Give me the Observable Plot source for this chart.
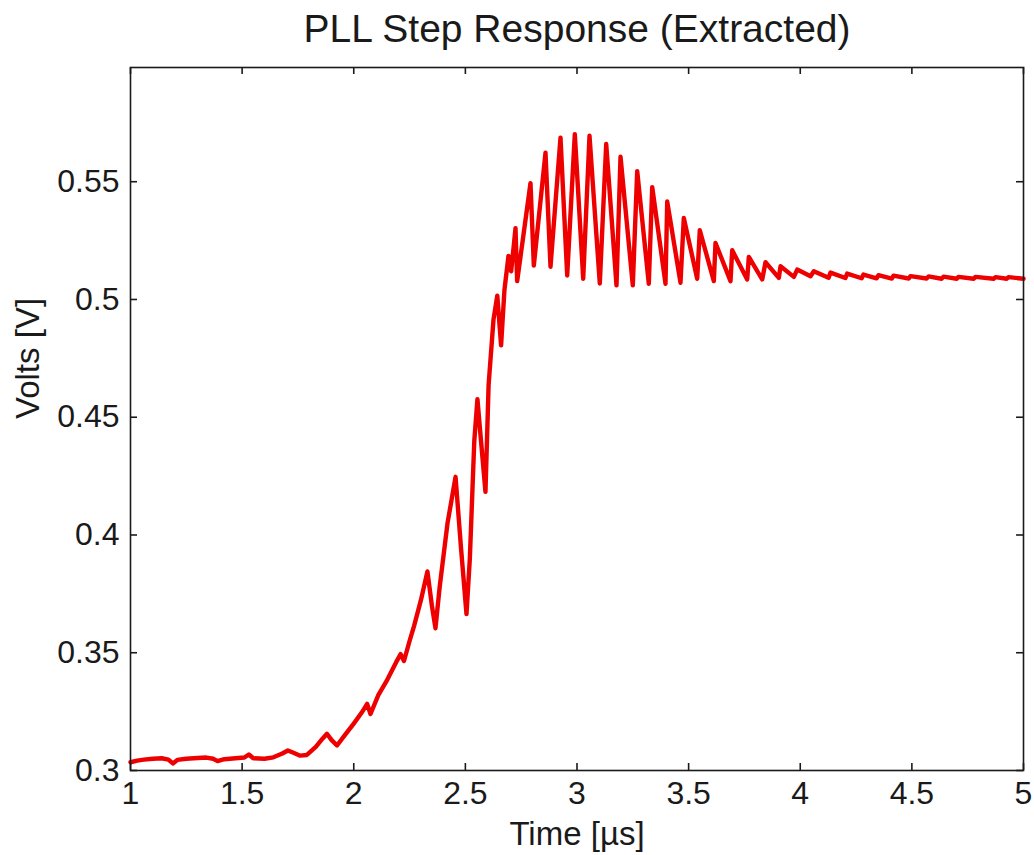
<!DOCTYPE html>
<html>
<head>
<meta charset="utf-8">
<script src="https://cdn.jsdelivr.net/npm/d3@7"></script>
<script src="https://cdn.jsdelivr.net/npm/@observablehq/plot@0.6"></script>
<style>
  html, body { margin: 0; padding: 0; background: #fff; }
  #chart svg { display: block; }
</style>
</head>
<body>
<div id="chart"></div>
<script>
// ---- Data ----
const titleText = "PLL Step Response (Extracted)";
const xLabel = "Time [µs]";
const yLabel = "Volts [V]";

const xTicks = [1, 1.5, 2, 2.5, 3, 3.5, 4, 4.5, 5];
const yTicks = [0.3, 0.35, 0.4, 0.45, 0.5, 0.55];

// time in microseconds
const time = [
  1.000, 1.030, 1.060, 1.100, 1.140, 1.170, 1.190, 1.210, 1.250, 1.300,
  1.340, 1.370, 1.390, 1.420, 1.470, 1.510, 1.530, 1.550, 1.600, 1.640,
  1.680, 1.705, 1.730, 1.760, 1.790, 1.830, 1.860, 1.880, 1.900, 1.925,
  1.960, 2.000, 2.035, 2.060, 2.075, 2.110, 2.150, 2.190, 2.210, 2.225,
  2.250, 2.270, 2.300, 2.330, 2.350, 2.366, 2.385, 2.420, 2.456, 2.480,
  2.505, 2.520, 2.540, 2.554, 2.570, 2.590, 2.604, 2.626, 2.643, 2.660,
  2.675, 2.693, 2.705, 2.718,
  2.7245, 2.7320, 2.7917, 2.8066, 2.8589, 2.8813, 2.9261, 2.9561, 2.9902, 3.0278,
  3.0560, 3.1021, 3.1308, 3.1769, 3.1949, 3.2499, 3.2697, 3.3216, 3.3369, 3.3964,
  3.4041, 3.4636, 3.4784, 3.5384, 3.5501, 3.6129, 3.6204, 3.6876, 3.6952, 3.7624,
  3.7696, 3.8296, 3.8444, 3.9040, 3.9116, 3.9713, 3.9864, 4.0460, 4.0607,
  4.1270, 4.1355, 4.2020, 4.2103, 4.2750, 4.2833, 4.3420, 4.3505, 4.4100, 4.4177,
  4.4860, 4.4939, 4.5660, 4.5745, 4.6330, 4.6417, 4.7010, 4.7089, 4.7770, 4.7850,
  4.8660, 4.8746, 4.9250, 4.9328, 5.000
];

// output voltage in volts
const volts = [
  0.3035, 0.3042, 0.3046, 0.3050, 0.3052, 0.3046, 0.3030, 0.3045, 0.3050, 0.3053,
  0.3055, 0.3050, 0.3040, 0.3048, 0.3052, 0.3055, 0.3068, 0.3052, 0.3050, 0.3056,
  0.3072, 0.3085, 0.3075, 0.3063, 0.3066, 0.3100, 0.3135, 0.3156, 0.3130, 0.3106,
  0.3150, 0.3199, 0.3245, 0.3283, 0.3240, 0.3320, 0.3385, 0.3460, 0.3494, 0.3465,
  0.3550, 0.3613, 0.3720, 0.3845, 0.3700, 0.3604, 0.3780, 0.4050, 0.4247, 0.3950,
  0.3664, 0.3900, 0.4400, 0.4577, 0.4400, 0.4183, 0.4636, 0.4915, 0.5016, 0.4805,
  0.5040, 0.5185, 0.5120, 0.5240,
  0.5303, 0.5078, 0.5494, 0.5144, 0.5623, 0.5139, 0.5687, 0.5102, 0.5702, 0.5088,
  0.5695, 0.5068, 0.5660, 0.5060, 0.5606, 0.5060, 0.5545, 0.5067, 0.5477, 0.5067,
  0.5416, 0.5071, 0.5346, 0.5088, 0.5294, 0.5078, 0.5240, 0.5078, 0.5209, 0.5085,
  0.5181, 0.5085, 0.5158, 0.5092, 0.5141, 0.5096, 0.5127, 0.5099, 0.5120,
  0.5092, 0.5114, 0.5091, 0.5110, 0.5090, 0.5106, 0.5090, 0.5103, 0.5089, 0.5101,
  0.5089, 0.5099, 0.5089, 0.5098, 0.5088, 0.5097, 0.5088, 0.5096, 0.5088, 0.5096,
  0.5088, 0.5095, 0.5088, 0.5095, 0.5088
];

// ---- Chart ----
const rows = time.map((t, i) => ({t, v: volts[i]}));

const W = 1034, H = 855;
const mL = 130, mR = 11, mT = 67, mB = 85;
const plotW = W - mL - mR, plotH = H - mT - mB;
const tickLen = 7;
const ink = "#1a1a1a";
const fnt = "'Liberation Sans', Arial, Helvetica, sans-serif";

const chart = Plot.plot({
  width: W,
  height: H,
  marginLeft: mL,
  marginRight: mR,
  marginTop: mT,
  marginBottom: mB,
  style: {fontFamily: fnt, background: "#fff", color: ink},
  x: {domain: [1, 5]},
  y: {domain: [0.3, 0.5985]},
  marks: [
    Plot.line(rows, {x: "t", y: "v", stroke: "#ee0000", strokeWidth: 4.4, strokeLinejoin: "round"}),
    Plot.frame({stroke: ink, strokeWidth: 1.6}),
    // inward ticks on all four sides
    Plot.tickX(xTicks, {x: d => d, insetTop: plotH - tickLen, stroke: ink, strokeWidth: 1.6}),
    Plot.tickX(xTicks, {x: d => d, insetBottom: plotH - tickLen, stroke: ink, strokeWidth: 1.6}),
    Plot.tickY(yTicks, {y: d => d, insetRight: plotW - tickLen, stroke: ink, strokeWidth: 1.6}),
    Plot.tickY(yTicks, {y: d => d, insetLeft: plotW - tickLen, stroke: ink, strokeWidth: 1.6}),
    Plot.axisX(xTicks, {tickSize: 0, tickPadding: 11, fontSize: 32, label: null, tickFormat: d => String(d), fill: ink}),
    Plot.axisY(yTicks, {tickSize: 0, tickPadding: 11, fontSize: 32, label: null, tickFormat: d => String(d), fill: ink}),
    Plot.text([xLabel], {frameAnchor: "bottom", dy: 74, fontSize: 33, fill: ink}),
    Plot.text([yLabel], {frameAnchor: "left", dx: -102, rotate: -90, fontSize: 33, fill: ink}),
    Plot.text([titleText], {frameAnchor: "top", dy: -53, fontSize: 39, fill: ink})
  ]
});

document.getElementById("chart").appendChild(chart);
</script>
</body>
</html>
